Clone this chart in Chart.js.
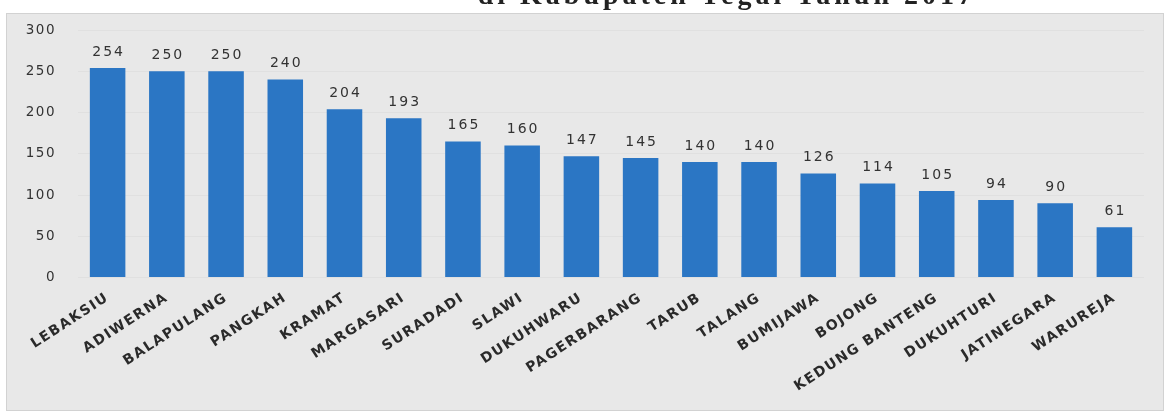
<!DOCTYPE html>
<html>
<head>
<meta charset="utf-8">
<script src="https://cdn.jsdelivr.net/npm/chart.js@4/dist/chart.umd.min.js"></script>
<style>
  html, body { margin: 0; padding: 0; background: #ffffff; }
  #wrap { position: relative; width: 1171px; height: 415px; }
</style>
</head>
<body>
<div id="wrap"><canvas id="c" width="1171" height="415"></canvas></div>
<script>
const titleText = "di Kabupaten Tegal Tahun 2017";
const categories = ["LEBAKSIU","ADIWERNA","BALAPULANG","PANGKAH","KRAMAT","MARGASARI","SURADADI","SLAWI","DUKUHWARU","PAGERBARANG","TARUB","TALANG","BUMIJAWA","BOJONG","KEDUNG BANTENG","DUKUHTURI","JATINEGARA","WARUREJA"];
const values = [254,250,250,240,204,193,165,160,147,145,140,140,126,114,105,94,90,61];
const yTicks = [0,50,100,150,200,250,300];

const spacingPlugin = {
  id: 'spacing',
  beforeUpdate(chart) { chart.ctx.letterSpacing = '1.5px'; },
  beforeLayout(chart) { chart.ctx.letterSpacing = '1.5px'; },
  beforeDraw(chart) { chart.ctx.letterSpacing = '1.5px'; }
};

const panelPlugin = {
  id: 'panel',
  beforeDraw(chart) {
    const ctx = chart.ctx;
    ctx.save();
    ctx.fillStyle = '#ffffff';
    ctx.fillRect(0, 0, chart.width, chart.height);
    ctx.fillStyle = '#e8e8e8';
    ctx.fillRect(6, 13, 1158, 398);
    ctx.strokeStyle = '#d2d2d2';
    ctx.lineWidth = 1;
    ctx.strokeRect(6.5, 13.5, 1157, 397);
    ctx.letterSpacing = '4px';
    ctx.font = 'bold 28px "Liberation Serif", serif';
    ctx.fillStyle = '#222222';
    ctx.textAlign = 'right';
    ctx.textBaseline = 'alphabetic';
    ctx.fillText(titleText, 976, 4);
    ctx.restore();
  }
};

const labelPlugin = {
  id: 'valueLabels',
  afterDatasetsDraw(chart) {
    const ctx = chart.ctx;
    const meta = chart.getDatasetMeta(0);
    ctx.save();
    ctx.letterSpacing = '2px';
    ctx.font = '14px "DejaVu Sans", sans-serif';
    ctx.fillStyle = '#333333';
    ctx.textAlign = 'center';
    ctx.textBaseline = 'middle';
    meta.data.forEach((bar, i) => {
      ctx.fillText(String(values[i]), bar.x + 1, bar.y - 16);
    });
    ctx.restore();
  }
};

new Chart(document.getElementById('c'), {
  type: 'bar',
  data: {
    labels: categories,
    datasets: [{
      data: values,
      backgroundColor: '#2b76c4',
      borderWidth: 0,
      categoryPercentage: 1.0,
      barPercentage: 0.6
    }]
  },
  options: {
    responsive: false,
    animation: false,
    devicePixelRatio: 1,
    layout: { padding: { left: 0, right: 27, top: 27, bottom: 0 } },
    plugins: { legend: { display: false }, title: { display: false }, tooltip: { enabled: false } },
    scales: {
      x: {
        grid: { display: false, drawTicks: false },
        border: { display: false },
        ticks: {
          autoSkip: false,
          minRotation: 33,
          maxRotation: 33,
          padding: 12,
          color: '#2a2a2a',
          font: { family: '"DejaVu Sans", sans-serif', size: 14, weight: 'bold' }
        },
        afterFit(scale) { scale.height = 137.5; }
      },
      y: {
        min: 0,
        max: 300,
        afterBuildTicks(scale) { scale.ticks = yTicks.map(v => ({ value: v })); },
        grid: { color: '#e0e0e0', drawTicks: false },
        border: { display: false },
        ticks: {
          padding: 22,
          color: '#333333',
          font: { family: '"DejaVu Sans", sans-serif', size: 13.5 }
        },
        afterFit(scale) { scale.width = 78; }
      }
    }
  },
  plugins: [spacingPlugin, panelPlugin, labelPlugin]
});
</script>
</body>
</html>
